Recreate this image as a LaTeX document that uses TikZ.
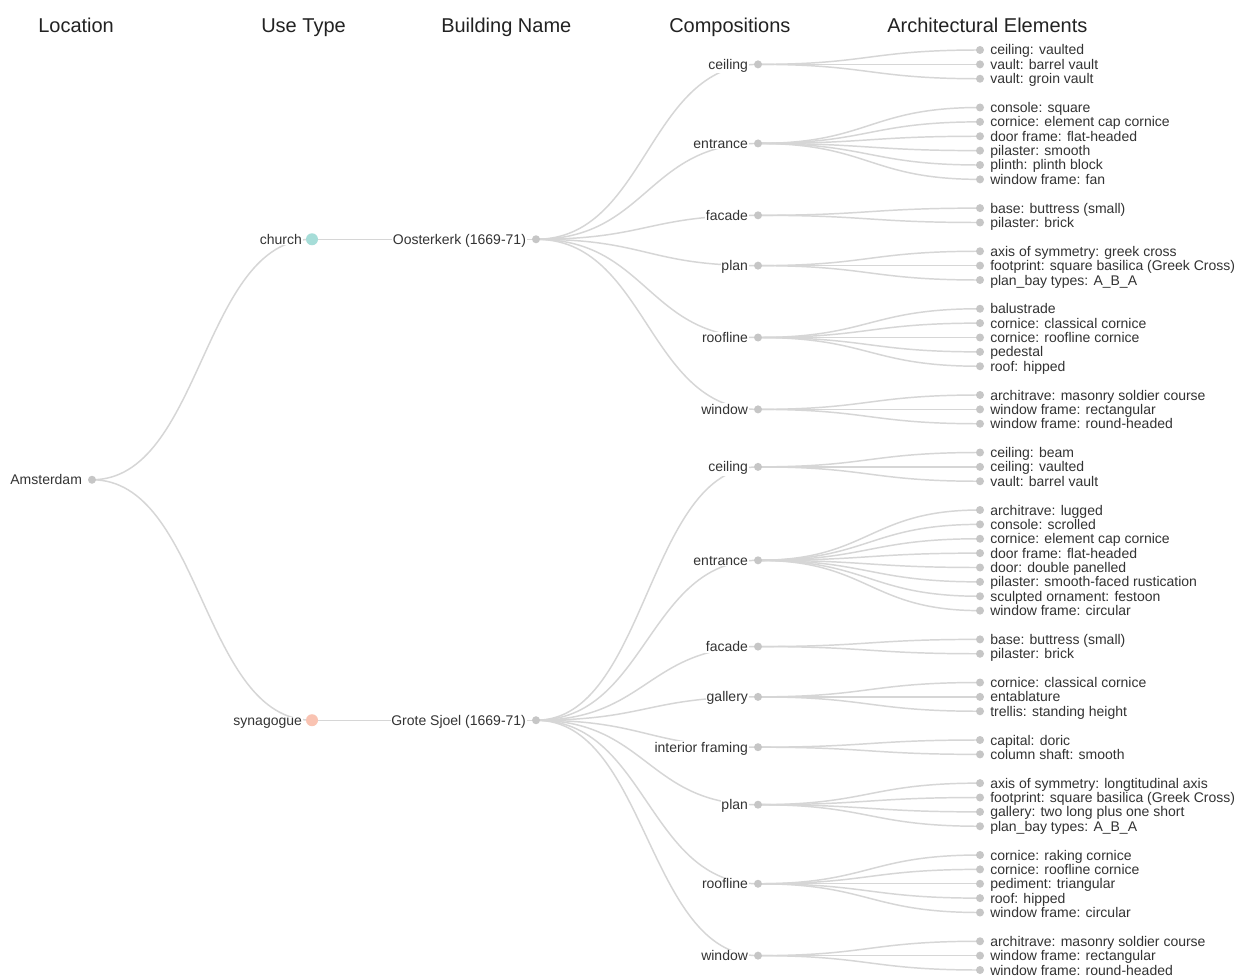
\documentclass[tikz,border=0pt]{standalone}
\usepackage{fontspec}
\setmainfont{Liberation Sans}
\usetikzlibrary{calc}
\pgfdeclarelayer{bg}\pgfdeclarelayer{paper}\pgfsetlayers{paper,bg,main}
\definecolor{linkc}{HTML}{D6D6D6}
\definecolor{dotc}{HTML}{C6C6C6}
\definecolor{txtc}{HTML}{333333}
\definecolor{hdrc}{HTML}{222222}
\definecolor{churchc}{HTML}{A6DDD8}
\definecolor{sync}{HTML}{F9C3B2}
\tikzset{
  link/.style={draw=linkc, line width=1.1pt,
    to path={let \p1=(\tikztostart), \p2=(\tikztotarget) in
      .. controls ({(\x1+\x2)/2},\y1) and ({(\x1+\x2)/2},\y2) .. (\tikztotarget)}},
  dotn/.style={circle, fill=dotc, inner sep=0pt, minimum size=6pt},
  bigdot/.style={circle, inner sep=0pt, minimum size=9pt},
  intt/.style={anchor=base east, font=\fontsize{10.5pt}{12pt}\selectfont, text=txtc, fill=white, inner xsep=0.6pt, inner ysep=0.6pt},
  leaft/.style={anchor=base west, font=\fontsize{10.5pt}{12pt}\selectfont, text=txtc, inner sep=0pt},
  hdr/.style={anchor=base west, font=\fontsize{15pt}{18pt}\selectfont, text=hdrc, inner sep=0pt}
}
\newcommand\innode[5]{%
  \node[dotn] (#1) at (#3,#4) {};
  \node[intt] (#1t) at ($(#1.center)+(-9,5)$) {#5};
  \begin{pgfonlayer}{bg}\draw[link] (#2.center) to (#1.center);\end{pgfonlayer}}
\newcommand\leafnode[4]{%
  \node[dotn] (#1) at (980,#3) {};
  \node[leaft] (#1t) at ($(#1.center)+(10,5)$) {#4};
  \begin{pgfonlayer}{bg}\draw[link] (#2.center) to (#1.center);\end{pgfonlayer}}
\begin{document}
\begin{tikzpicture}[x=0.75pt,y=-0.75pt]
\begin{pgfonlayer}{paper}
\fill[white] (0,0) rectangle (1241,977);
\end{pgfonlayer}
\useasboundingbox (0,0) rectangle (1241,977);
% headers
\node[hdr] (h1) at (38,33) {Location};
\node[hdr] (h2) at (261,33) {Use Type};
\node[hdr] (h3) at (441,33) {Building Name};
\node[hdr] (h4) at (669,33) {Compositions};
\node[hdr] (h5) at (887,33) {Architectural Elements};
% root
\node[dotn] (ams) at (92,479.75) {};
\node[intt] (amst) at ($(ams.center)+(-9,5)$) {Amsterdam};
% use types
\node[bigdot, fill=churchc] (church) at (312,239.27) {};
\node[intt] (churcht) at ($(church.center)+(-9,5)$) {church};
\begin{pgfonlayer}{bg}\draw[link] (ams.center) to (church.center);\end{pgfonlayer}
\node[bigdot, fill=sync] (syn) at (312,720.23) {};
\node[intt] (synt) at ($(syn.center)+(-9,5)$) {synagogue};
\begin{pgfonlayer}{bg}\draw[link] (ams.center) to (syn.center);\end{pgfonlayer}
% buildings
\innode{oost}{church}{536}{239.27}{Oosterkerk (1669-71)}
\innode{grote}{syn}{536}{720.23}{Grote Sjoel (1669-71)}
% compositions (Oosterkerk)
\innode{aceil}{oost}{758}{64.375}{ceiling}
\innode{aentr}{oost}{758}{143.4375}{entrance}
\innode{afac}{oost}{758}{215.3125}{facade}
\innode{aplan}{oost}{758}{265.625}{plan}
\innode{aroof}{oost}{758}{337.5}{roofline}
\innode{awin}{oost}{758}{409.375}{window}
% compositions (Grote Sjoel)
\innode{bceil}{grote}{758}{466.875}{ceiling}
\innode{bentr}{grote}{758}{560.3125}{entrance}
\innode{bfac}{grote}{758}{646.5625}{facade}
\innode{bgal}{grote}{758}{696.875}{gallery}
\innode{bint}{grote}{758}{747.1875}{interior framing}
\innode{bplan}{grote}{758}{804.6875}{plan}
\innode{broof}{grote}{758}{883.75}{roofline}
\innode{bwin}{grote}{758}{955.625}{window}
% leaves (Oosterkerk)
\leafnode{l0}{aceil}{50}{ceiling: vaulted}
\leafnode{l1}{aceil}{64.375}{vault: barrel vault}
\leafnode{l2}{aceil}{78.75}{vault: groin vault}
\leafnode{l4}{aentr}{107.5}{console: square}
\leafnode{l5}{aentr}{121.875}{cornice: element cap cornice}
\leafnode{l6}{aentr}{136.25}{door frame: flat-headed}
\leafnode{l7}{aentr}{150.625}{pilaster: smooth}
\leafnode{l8}{aentr}{165}{plinth: plinth block}
\leafnode{l9}{aentr}{179.375}{window frame: fan}
\leafnode{l11}{afac}{208.125}{base: buttress (small)}
\leafnode{l12}{afac}{222.5}{pilaster: brick}
\leafnode{l14}{aplan}{251.25}{axis of symmetry: greek cross}
\leafnode{l15}{aplan}{265.625}{footprint: square basilica (Greek Cross)}
\leafnode{l16}{aplan}{280}{plan\_bay types: A\_B\_A}
\leafnode{l18}{aroof}{308.75}{balustrade}
\leafnode{l19}{aroof}{323.125}{cornice: classical cornice}
\leafnode{l20}{aroof}{337.5}{cornice: roofline cornice}
\leafnode{l21}{aroof}{351.875}{pedestal}
\leafnode{l22}{aroof}{366.25}{roof: hipped}
\leafnode{l24}{awin}{395}{architrave: masonry soldier course}
\leafnode{l25}{awin}{409.375}{window frame: rectangular}
\leafnode{l26}{awin}{423.75}{window frame: round-headed}
% leaves (Grote Sjoel)
\leafnode{l28}{bceil}{452.5}{ceiling: beam}
\leafnode{l29}{bceil}{466.875}{ceiling: vaulted}
\leafnode{l30}{bceil}{481.25}{vault: barrel vault}
\leafnode{l32}{bentr}{510}{architrave: lugged}
\leafnode{l33}{bentr}{524.375}{console: scrolled}
\leafnode{l34}{bentr}{538.75}{cornice: element cap cornice}
\leafnode{l35}{bentr}{553.125}{door frame: flat-headed}
\leafnode{l36}{bentr}{567.5}{door: double panelled}
\leafnode{l37}{bentr}{581.875}{pilaster: smooth-faced rustication}
\leafnode{l38}{bentr}{596.25}{sculpted ornament: festoon}
\leafnode{l39}{bentr}{610.625}{window frame: circular}
\leafnode{l41}{bfac}{639.375}{base: buttress (small)}
\leafnode{l42}{bfac}{653.75}{pilaster: brick}
\leafnode{l44}{bgal}{682.5}{cornice: classical cornice}
\leafnode{l45}{bgal}{696.875}{entablature}
\leafnode{l46}{bgal}{711.25}{trellis: standing height}
\leafnode{l48}{bint}{740}{capital: doric}
\leafnode{l49}{bint}{754.375}{column shaft: smooth}
\leafnode{l51}{bplan}{783.125}{axis of symmetry: longtitudinal axis}
\leafnode{l52}{bplan}{797.5}{footprint: square basilica (Greek Cross)}
\leafnode{l53}{bplan}{811.875}{gallery: two long plus one short}
\leafnode{l54}{bplan}{826.25}{plan\_bay types: A\_B\_A}
\leafnode{l56}{broof}{855}{cornice: raking cornice}
\leafnode{l57}{broof}{869.375}{cornice: roofline cornice}
\leafnode{l58}{broof}{883.75}{pediment: triangular}
\leafnode{l59}{broof}{898.125}{roof: hipped}
\leafnode{l60}{broof}{912.5}{window frame: circular}
\leafnode{l62}{bwin}{941.25}{architrave: masonry soldier course}
\leafnode{l63}{bwin}{955.625}{window frame: rectangular}
\leafnode{l64}{bwin}{970}{window frame: round-headed}
\end{tikzpicture}
\end{document}
